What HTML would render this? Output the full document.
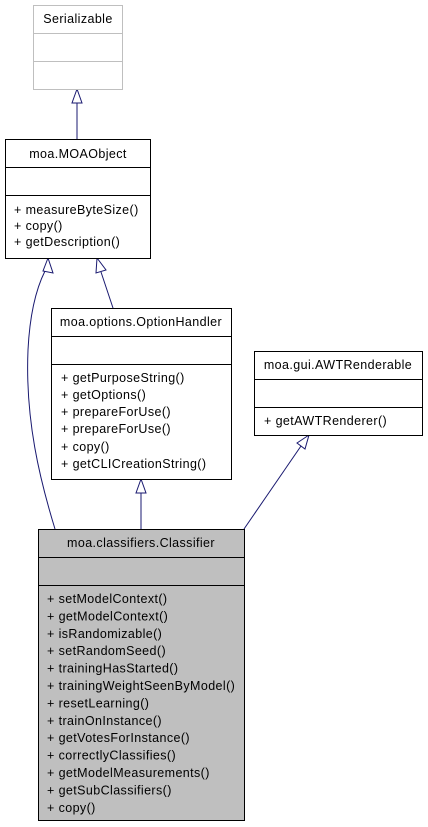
<!DOCTYPE html>
<html><head><meta charset="utf-8"><style>html,body{margin:0;padding:0;background:#fff}svg{display:block}</style></head>
<body>
<svg width="428" height="827" xmlns="http://www.w3.org/2000/svg" font-family="Liberation Sans, sans-serif" font-size="12.5" letter-spacing="0.4">
<g fill="none" stroke="#191970" stroke-width="1">
<line x1="77" y1="139" x2="77" y2="103"/>
<path d="M55,529 C40,480 25,420 28,350 C30,310 38,285 45,271"/>
<line x1="113" y1="308" x2="101" y2="272"/>
<line x1="141" y1="529" x2="141" y2="493"/>
<line x1="244" y1="529" x2="301" y2="446"/>
</g>
<g fill="#fff" stroke="#191970">
<polygon points="77,89 72,103 82,103"/>
<polygon points="48,258 43,271 53,273"/>
<polygon points="97,258 96,273 106,270"/>
<polygon points="141,479 136,493 146,493"/>
<polygon points="309,435 297,443 305,449"/>
</g>
<g stroke="#bfbfbf" fill="#fff">
<rect x="33.5" y="5.5" width="89" height="84"/>
<line x1="33" y1="33.5" x2="122" y2="33.5"/>
<line x1="33" y1="61.5" x2="122" y2="61.5"/>
</g>
<text x="78" y="23" text-anchor="middle">Serializable</text>
<g stroke="#000" fill="#fff">
<rect x="5.5" y="139.5" width="145" height="119"/>
<line x1="5" y1="167.5" x2="150" y2="167.5"/>
<line x1="5" y1="195.5" x2="150" y2="195.5"/>
<rect x="51.5" y="308.5" width="180" height="171"/>
<line x1="51" y1="336.5" x2="231" y2="336.5"/>
<line x1="51" y1="364.5" x2="231" y2="364.5"/>
<rect x="254.5" y="351.5" width="168" height="84"/>
<line x1="254" y1="379.5" x2="422" y2="379.5"/>
<line x1="254" y1="407.5" x2="422" y2="407.5"/>
<rect x="38.5" y="529.5" width="206" height="291" fill="#bfbfbf"/>
<line x1="38" y1="557.5" x2="244" y2="557.5"/>
<line x1="38" y1="585.5" x2="244" y2="585.5"/>
</g>
<text x="78" y="158" text-anchor="middle">moa.MOAObject</text>
<text x="14" y="214">+ measureByteSize()</text>
<text x="14" y="230">+ copy()</text>
<text x="14" y="246">+ getDescription()</text>
<text x="141" y="326" text-anchor="middle">moa.options.OptionHandler</text>
<text x="61" y="382">+ getPurposeString()</text>
<text x="61" y="399">+ getOptions()</text>
<text x="61" y="416">+ prepareForUse()</text>
<text x="61" y="433">+ prepareForUse()</text>
<text x="61" y="451">+ copy()</text>
<text x="61" y="468">+ getCLICreationString()</text>
<text x="338" y="369" text-anchor="middle">moa.gui.AWTRenderable</text>
<text x="264" y="425">+ getAWTRenderer()</text>
<text x="141" y="547" text-anchor="middle">moa.classifiers.Classifier</text>
<g>
<text x="47" y="603">+ setModelContext()</text>
<text x="47" y="620.4">+ getModelContext()</text>
<text x="47" y="637.8">+ isRandomizable()</text>
<text x="47" y="655.2">+ setRandomSeed()</text>
<text x="47" y="672.6">+ trainingHasStarted()</text>
<text x="47" y="690">+ trainingWeightSeenByModel()</text>
<text x="47" y="707.4">+ resetLearning()</text>
<text x="47" y="724.8">+ trainOnInstance()</text>
<text x="47" y="742.2">+ getVotesForInstance()</text>
<text x="47" y="759.6">+ correctlyClassifies()</text>
<text x="47" y="777">+ getModelMeasurements()</text>
<text x="47" y="794.4">+ getSubClassifiers()</text>
<text x="47" y="811.8">+ copy()</text>
</g>
</svg>
</body></html>
